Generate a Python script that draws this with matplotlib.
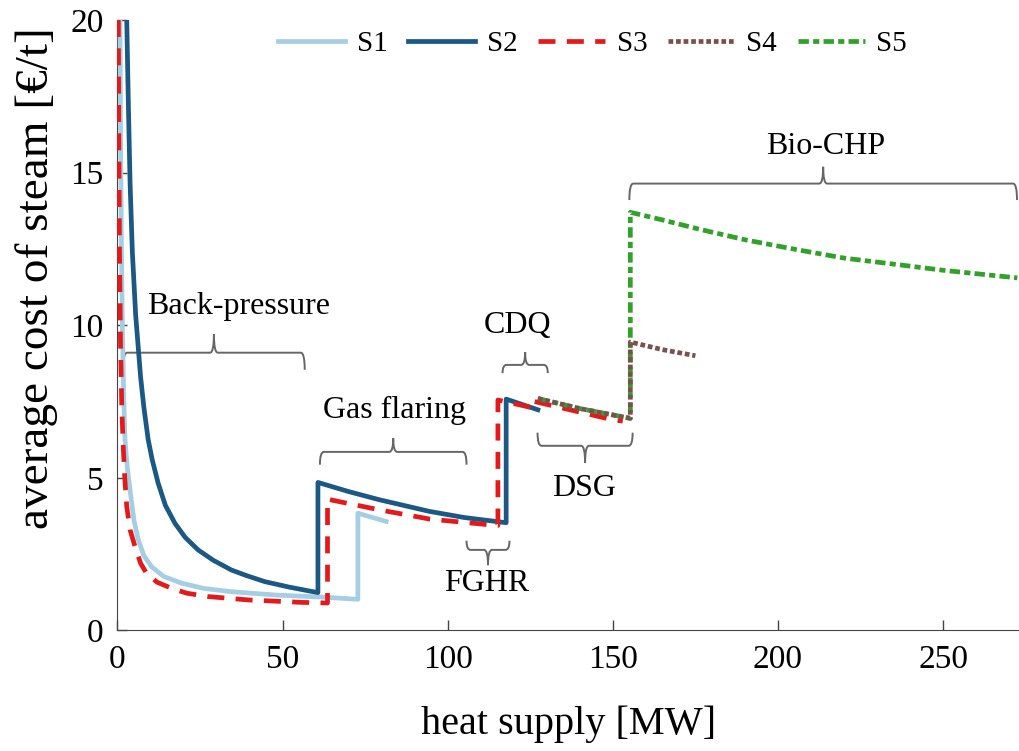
import matplotlib
matplotlib.use("Agg")
import matplotlib.pyplot as plt
from matplotlib.path import Path
from matplotlib.patches import PathPatch

plt.rcParams['font.family'] = ['Liberation Serif', 'DejaVu Serif']

# --- data ---
s1_x = [0.75, 0.95, 1.2, 1.5, 1.9, 2.27, 3.0, 3.8, 5.0, 6.3, 8, 10.3, 14, 19.4, 26, 34.5, 48, 62.8, 72.8, 72.8, 81.4]
s1_y = [20, 16, 12.5, 9.8, 7.6, 6.25, 5.3, 4.6, 3.6, 2.97, 2.45, 2.09, 1.77, 1.55, 1.38, 1.27, 1.16, 1.09, 1.02, 3.84, 3.57]

s2_x = [2.8, 3.3, 3.8, 4.5, 5.5, 7, 8, 9.3, 10.5, 12.3, 14.5, 17.4, 20.5, 24.4, 29, 34.5, 39, 44.6, 52, 60.7,
        60.7, 70, 79.4, 94.5, 105, 117.7, 117.7, 127.3]
s2_y = [20, 17.2, 14.7, 12.4, 10.34, 8.3, 7.3, 6.25, 5.6, 4.83, 4.1, 3.51, 3.05, 2.64, 2.3, 1.98, 1.8, 1.6, 1.42, 1.24,
        4.85, 4.55, 4.28, 3.9, 3.7, 3.53, 7.58, 7.23]

s3_x = [0.25, 0.4, 0.6, 0.9, 1.3, 1.75, 2.2, 2.8, 3.8, 5.3, 7, 8.8, 12, 16.4, 21, 27.5, 39.6, 55.7, 63.6,
        63.6, 79.4, 94.5, 112.7, 115.2, 115.2, 126.3, 126.3, 150, 153]
s3_y = [20, 16, 12.5, 9.5, 7.3, 6.0, 5.0, 4.06, 3.3, 2.75, 2.2, 1.87, 1.58, 1.38, 1.22, 1.11, 1.0, 0.92, 0.9,
        4.3, 3.95, 3.65, 3.46, 3.44, 7.55, 7.28, 7.5, 6.9, 6.86]

s4_x = [127.3, 140, 155.3, 155.3, 165, 175]
s4_y = [7.6, 7.27, 6.95, 9.45, 9.2, 9.0]

s5_x = [127.3, 140, 155.3, 155.3, 165, 176, 190, 206, 220, 236.7, 250, 272.5]
s5_y = [7.6, 7.27, 6.95, 13.7, 13.45, 13.15, 12.8, 12.47, 12.2, 11.98, 11.8, 11.55]

x_ticks = [0, 50, 100, 150, 200, 250]
y_ticks = [0, 5, 10, 15, 20]

# braces: label, x0, x1, line y, end offset, cusp offset, text x, text y
braces = [
    ("Back-pressure", 1.7, 56.7, 9.1, -0.56, 0.6, 36.7, 10.6),
    ("Gas flaring", 61.3, 105.7, 5.85, -0.42, 0.45, 84.0, 7.2),
    ("CDQ", 116.6, 130.3, 8.7, -0.27, 0.42, 121.2, 10.0),
    ("FGHR", 105.7, 118.7, 2.64, 0.3, -0.5, 111.8, 1.55),
    ("DSG", 127.2, 156.0, 6.05, 0.43, -0.55, 141.4, 4.65),
    ("Bio-CHP", 155.0, 272.4, 14.64, -0.54, 0.55, 214.3, 15.85),
]


def draw_brace(ax, x0, x1, y, d, c, r=1.2):
    xm = (x0 + x1) / 2
    verts = [(x0, y + d), (x0, y), (x0 + r, y),
             (xm - r, y), (xm, y), (xm, y + c),
             (xm, y), (xm + r, y),
             (x1 - r, y), (x1, y), (x1, y + d)]
    codes = [Path.MOVETO, Path.CURVE3, Path.CURVE3,
             Path.LINETO, Path.CURVE3, Path.CURVE3,
             Path.CURVE3, Path.CURVE3,
             Path.LINETO, Path.CURVE3, Path.CURVE3]
    ax.add_patch(PathPatch(Path(verts, codes), fill=False, ec='#666666', lw=1.4, zorder=1))


fig = plt.figure(figsize=(10.19, 7.51), dpi=100)
ax = fig.add_axes([0.1153, 0.1605, 0.8847, 0.8129])

lw = 3.4
ax.plot(s1_x, s1_y, color='#a6cee3', lw=lw, label='S1', zorder=3)
ax.plot(s2_x, s2_y, color='#1b5883', lw=lw, label='S2', zorder=4)
ax.plot(s3_x, s3_y, color='#e31a1c', lw=lw, dashes=(3.6, 2.4), label='S3', zorder=5)
ax.plot(s4_x, s4_y, color='#7b4f4f', lw=lw, dashes=(1, 0.6), label='S4', zorder=6)
ax.plot(s5_x, s5_y, color='#33a02c', lw=lw, dashes=(2.2, 0.9, 1.3, 0.9), label='S5', zorder=5.5)

for name, x0, x1, y, d, c, tx, ty in braces:
    draw_brace(ax, x0, x1, y, d, c)
    ax.text(tx, ty, name, fontsize=23, ha='center', va='center')

ax.set_xlim(0, 273)
ax.set_ylim(0, 20)
ax.set_xticks(x_ticks)
ax.set_yticks(y_ticks)
ax.tick_params(direction='in', length=7, width=1, labelsize=24, color='#444444', pad=10)
for side in ['top', 'right']:
    ax.spines[side].set_visible(False)
for side in ['left', 'bottom']:
    ax.spines[side].set_color('#444444')
ax.set_xlabel('heat supply [MW]', fontsize=29, labelpad=22)
ax.set_ylabel('average cost of steam [€/t]', fontsize=34)
ax.yaxis.set_label_coords(-0.066, 0.577)

ax.legend(loc='center', bbox_to_anchor=(0.527, 0.961), ncol=5, frameon=False,
          fontsize=21, handlelength=2.3, columnspacing=0.7, handletextpad=0.4)

fig.savefig('out.png', dpi=100)
